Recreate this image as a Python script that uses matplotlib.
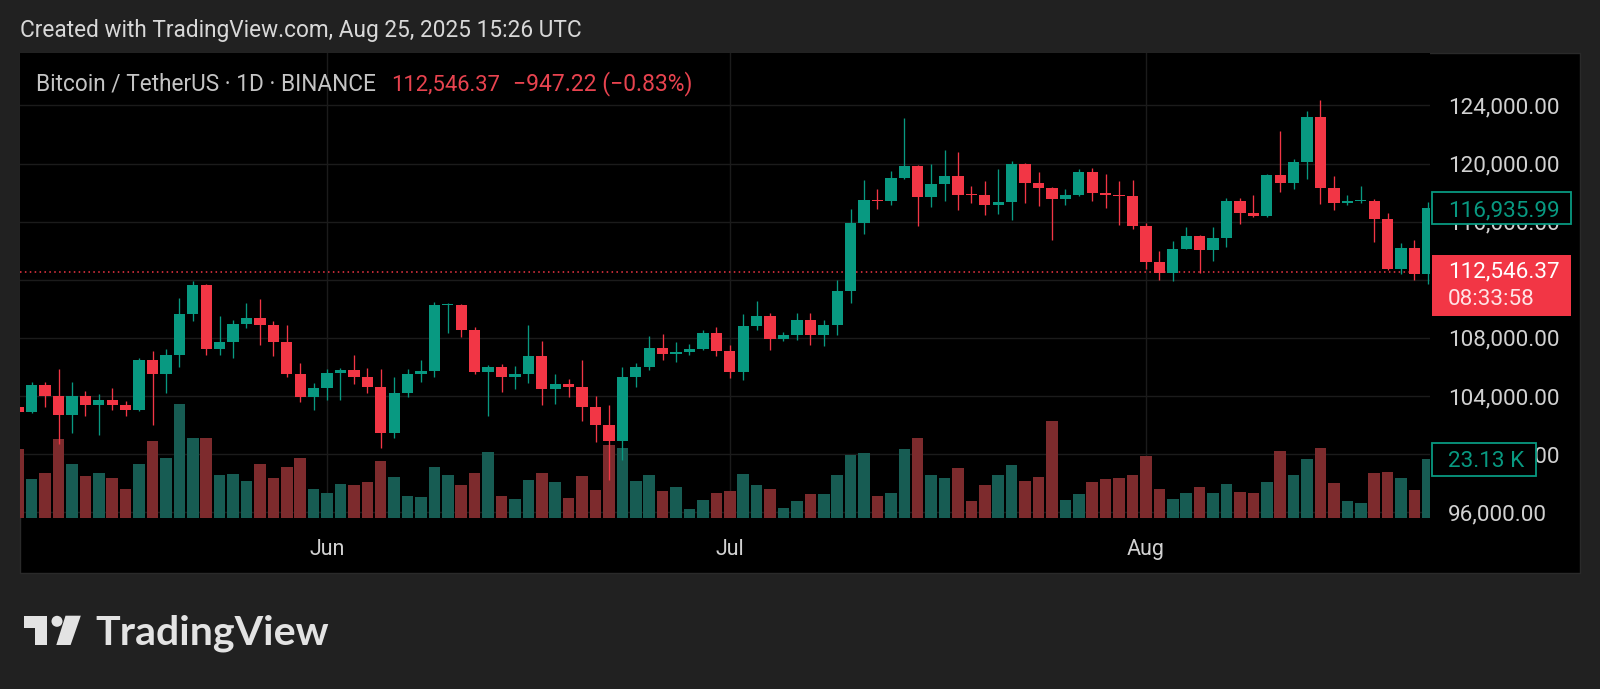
import numpy as np
import pandas as pd
import matplotlib
matplotlib.use("Agg")
import matplotlib.pyplot as plt
import matplotlib.dates as mdates
from matplotlib.patches import Rectangle, Circle, Polygon
from matplotlib.ticker import FuncFormatter

plt.rcParams["font.family"] = ["Roboto", "DejaVu Sans"]

# BTCUSDT daily candles (Binance), prices in thousand USDT, volume in thousand BTC
START = "2025-05-09"
OPEN = [103.23, 102.88, 104.79, 104.03, 102.72, 104.03, 103.41, 103.69, 103.41, 103.07,
        106.45, 105.53, 106.79, 109.62, 111.62, 107.25, 107.71, 108.93, 109.39, 108.86,
        107.71, 105.53, 103.92, 104.54, 105.60, 105.80, 105.30, 104.65, 101.43, 104.22,
        105.48, 105.69, 110.24, 110.29, 108.56, 105.64, 106.03, 105.34, 105.53, 106.77,
        104.47, 104.82, 104.61, 103.23, 102.03, 100.88, 105.34, 106.03, 107.30, 106.91,
        107.00, 107.25, 108.33, 107.07, 105.64, 108.79, 109.53, 107.94, 108.17, 109.20,
        108.17, 108.86, 111.20, 115.94, 117.48, 117.41, 119.04, 119.83, 117.71, 118.59,
        119.14, 117.94, 117.83, 117.18, 117.34, 119.94, 118.68, 118.29, 117.57, 117.87,
        119.39, 117.99, 117.87, 117.78, 115.69, 113.23, 112.49, 114.15, 115.02, 114.03,
        114.91, 117.44, 116.61, 116.38, 119.20, 118.63, 120.08, 123.23, 118.29, 117.30,
        117.44, 117.40, 116.17, 112.77, 114.22, 112.42]
HIGH = [104.30, 104.95, 104.95, 105.83, 104.95, 104.31, 104.15, 104.54, 103.64, 106.61,
        107.07, 107.25, 110.77, 111.92, 111.74, 109.48, 109.25, 110.40, 110.66, 109.16,
        108.86, 106.29, 104.88, 105.87, 105.94, 106.79, 105.94, 105.87, 105.34, 105.87,
        106.45, 110.47, 110.40, 110.36, 108.75, 106.10, 106.22, 106.06, 108.91, 107.76,
        105.53, 105.18, 106.49, 103.97, 103.39, 106.03, 106.26, 108.13, 108.24, 107.71,
        107.55, 108.52, 108.75, 107.48, 109.67, 110.52, 109.71, 108.38, 109.71, 109.71,
        109.20, 111.96, 116.86, 118.86, 118.22, 119.48, 123.16, 119.90, 120.00, 120.97,
        120.77, 118.45, 118.81, 119.62, 120.20, 120.06, 119.39, 118.36, 118.26, 119.66,
        119.73, 119.25, 118.79, 118.90, 115.92, 113.99, 114.65, 115.64, 115.07, 115.64,
        117.60, 117.60, 117.87, 119.30, 122.27, 120.29, 123.62, 124.38, 119.16, 117.83,
        118.44, 117.55, 116.61, 114.54, 114.77, 117.37]
LOW = [102.30, 102.82, 103.27, 100.70, 101.43, 102.61, 101.34, 103.07, 102.59, 103.00,
       102.01, 104.20, 106.03, 109.16, 106.79, 106.79, 106.61, 108.68, 107.53, 106.72,
       105.30, 103.57, 103.05, 103.73, 103.69, 104.84, 104.20, 100.40, 101.09, 103.92,
       104.95, 105.30, 108.33, 108.06, 105.50, 102.61, 104.26, 104.45, 104.91, 103.37,
       103.46, 103.92, 102.31, 100.82, 98.22, 99.60, 104.61, 105.80, 106.49, 106.33,
       106.79, 107.14, 106.72, 105.25, 105.11, 108.52, 107.18, 107.76, 107.83, 107.48,
       107.41, 108.20, 110.42, 115.18, 116.86, 117.18, 118.91, 115.69, 116.98, 117.44,
       116.79, 117.30, 116.45, 116.52, 116.15, 117.30, 117.07, 114.72, 117.12, 117.80,
       117.44, 116.95, 115.80, 115.53, 112.77, 112.01, 111.92, 114.10, 112.47, 113.30,
       114.26, 115.87, 116.33, 116.30, 118.06, 118.22, 118.91, 117.21, 116.79, 117.14,
       117.30, 114.61, 112.70, 112.38, 112.01, 111.69]
CLOSE = [102.88, 104.79, 104.03, 102.72, 104.03, 103.41, 103.69, 103.41, 103.07, 106.45,
         105.53, 106.79, 109.62, 111.62, 107.25, 107.71, 108.93, 109.39, 108.86, 107.71,
         105.53, 103.92, 104.54, 105.60, 105.80, 105.30, 104.65, 101.43, 104.22, 105.48,
         105.69, 110.24, 110.29, 108.56, 105.64, 106.03, 105.34, 105.53, 106.77, 104.47,
         104.82, 104.61, 103.23, 102.03, 100.88, 105.34, 106.03, 107.30, 106.91, 107.00,
         107.25, 108.33, 107.07, 105.64, 108.79, 109.53, 107.94, 108.17, 109.20, 108.17,
         108.86, 111.20, 115.94, 117.48, 117.41, 119.04, 119.83, 117.71, 118.59, 119.14,
         117.83, 117.83, 117.18, 117.34, 119.94, 118.68, 118.29, 117.57, 117.87, 119.39,
         117.99, 117.87, 117.78, 115.69, 113.23, 112.49, 114.15, 115.02, 114.03, 114.91,
         117.44, 116.61, 116.38, 119.20, 118.63, 120.08, 123.23, 118.29, 117.30, 117.44,
         117.50, 116.17, 112.77, 114.22, 112.42, 116.94]
VOLUME = [27.3, 15.3, 17.9, 31.0, 21.2, 16.5, 17.9, 15.6, 11.4, 21.4,
          30.2, 23.6, 45.0, 31.6, 31.6, 16.9, 17.5, 14.5, 21.2, 15.7,
          19.9, 23.6, 11.4, 9.9, 13.3, 13.2, 14.0, 22.3, 16.0, 8.6,
          8.1, 19.9, 17.1, 13.2, 17.9, 26.0, 8.8, 7.3, 14.9, 17.9,
          14.0, 7.7, 16.5, 11.2, 28.6, 27.6, 14.5, 16.9, 10.7, 12.3,
          3.5, 6.9, 9.9, 10.7, 17.5, 13.2, 11.6, 4.0, 6.7, 9.5,
          9.3, 17.1, 24.7, 25.7, 8.6, 9.7, 27.0, 31.6, 16.9, 15.6,
          19.7, 6.8, 12.9, 16.9, 20.8, 14.5, 16.0, 38.1, 7.1, 9.3,
          14.0, 15.2, 15.6, 17.1, 24.4, 11.6, 7.4, 9.9, 12.2, 9.9,
          13.3, 10.1, 9.7, 14.2, 26.4, 16.9, 23.1, 27.7, 13.8, 6.7,
          6.0, 17.9, 18.2, 15.8, 11.0, 23.13]

SYMBOL = "Bitcoin / TetherUS · 1D · BINANCE"
LAST_PRICE = 112546.37
CHANGE = -947.22
CHANGE_PCT = -0.83
BAR_CLOSE = 116935.99
COUNTDOWN = "08:33:58"
CREATED = "Created with TradingView.com, Aug 25, 2025 15:26 UTC"
PRICE_TICKS = np.arange(96000, 128000, 4000)

UP, DOWN = "#089981", "#f23645"
UP_VOL, DOWN_VOL = "#175c53", "#7d2b2d"
GRID = "#1b1b1b"
TXT = "#d1d1d1"

W, H = 1600, 689
PANE = (20, 52.7, 1430, 518)          # left, top, right, bottom in px
PANE_H = PANE[3] - PANE[1]
YLIM = (95600, 127635)
VOL_TOP = 183.35                       # volume value at the top of the pane

o = np.array(OPEN) * 1000
h = np.array(HIGH) * 1000
l = np.array(LOW) * 1000
c = np.array(CLOSE) * 1000
v = np.array(VOLUME)
d = mdates.date2num(pd.date_range(START, periods=len(o)))
up = c >= o

fig = plt.figure(figsize=(16, 6.89), dpi=100, facecolor="#212121")

bg = fig.add_axes([0, 0, 1, 1], zorder=-1)
bg.set_xlim(0, W)
bg.set_ylim(H, 0)
bg.axis("off")
bg.add_patch(Rectangle((20, 52.7), 1560, 520, fc="black", ec="#2a2a2a", lw=1))

ax = fig.add_axes([PANE[0] / W, 1 - PANE[3] / H, (PANE[2] - PANE[0]) / W, PANE_H / H])
ax.set_facecolor("black")
for s in ax.spines.values():
    s.set_visible(False)

# volume overlay (bottom of the pane)
ax.bar(d, v / VOL_TOP, width=0.86, bottom=0, color=np.where(up, UP_VOL, DOWN_VOL),
       linewidth=0, transform=ax.get_xaxis_transform(), zorder=2)

# candles
cols = np.where(up, UP, DOWN)
ax.vlines(d, l, h, colors=cols, linewidth=0.95, zorder=3)
ax.bar(d, np.maximum(np.abs(c - o), 80), bottom=np.minimum(o, c), width=0.84,
       color=cols, linewidth=0, zorder=4)

ax.axhline(LAST_PRICE, color=DOWN, lw=1.1, ls=(0, (1, 2.2)), zorder=2.5)

ax.set_xlim(d[0] + 0.13, d[0] + 105.16)
ax.set_ylim(*YLIM)
ax.set_yticks(PRICE_TICKS)
ax.yaxis.tick_right()
ax.yaxis.set_major_formatter(FuncFormatter(lambda val, pos: f"{val:,.2f}"))
ax.xaxis.set_major_locator(mdates.MonthLocator())
ax.xaxis.set_major_formatter(mdates.DateFormatter("%b"))
ax.tick_params(axis="y", length=0, pad=13, labelsize=16.2, labelcolor=TXT)
ax.tick_params(axis="x", length=0, pad=15, labelsize=15.5, labelcolor=TXT)
ax.grid(True, color=GRID, lw=1)
ax.set_axisbelow(True)

# price-scale labels
pax = fig.add_axes([PANE[2] / W, 1 - PANE[3] / H, 150 / W, PANE_H / H], sharey=ax)
pax.set_xlim(PANE[2], 1580)
pax.axis("off")
ppx = (YLIM[1] - YLIM[0]) / PANE_H     # price per pixel

pax.add_patch(Rectangle((1432, BAR_CLOSE - 15.8 * ppx), 139, 31.6 * ppx,
                        fc="black", ec=UP, lw=1.3, zorder=3))
pax.text(1448, BAR_CLOSE, f"{BAR_CLOSE:,.2f}", color=UP, fontsize=16.2,
         va="center_baseline", ha="left", zorder=4)

pax.add_patch(Rectangle((1432, LAST_PRICE - 44.4 * ppx), 139, 61 * ppx,
                        fc=DOWN, ec="none", zorder=3))
pax.text(1448, LAST_PRICE + 2 * ppx, f"{LAST_PRICE:,.2f}", color="white", fontsize=16.2,
         va="center_baseline", ha="left", zorder=4)
pax.text(1448, LAST_PRICE - 25 * ppx, COUNTDOWN, color="#ffe3e5", fontsize=16.2,
         va="center_baseline", ha="left", zorder=4)

vtr = pax.get_xaxis_transform()
pax.add_patch(Rectangle((1432, v[-1] / VOL_TOP - 16.3 / PANE_H), 104, 32.6 / PANE_H,
                        transform=vtr, fc="black", ec=UP, lw=1.3, zorder=3))
pax.text(1448, v[-1] / VOL_TOP, f"{v[-1]:.2f} K", transform=vtr, color=UP, fontsize=16.2,
         va="center_baseline", ha="left", zorder=4)

# texts and logo in pixel space
top = fig.add_axes([0, 0, 1, 1], zorder=5)
top.set_xlim(0, W)
top.set_ylim(H, 0)
top.axis("off")

r = fig.canvas.get_renderer()


def fit(t, width):
    bb = t.get_window_extent(renderer=r)
    t.set_fontsize(t.get_fontsize() * width / bb.width)


t = top.text(20, 37.5, CREATED, color="#d8d8d8", fontsize=15, va="baseline")
fit(t, 563)
t = top.text(36, 90.7, SYMBOL, color="#c4c4c4", fontsize=15, va="baseline")
fit(t, 341)
t = top.text(391, 90.7, f"{LAST_PRICE:,.2f}", color="#e8434f", fontsize=15, va="baseline")
fit(t, 109)
t = top.text(513, 90.7, f"\u2212{abs(CHANGE):,.2f} (\u2212{abs(CHANGE_PCT):.2f}%)",
             color="#e8434f", fontsize=15, va="baseline")
fit(t, 179)

LOGO = "#e3e3e3"
top.add_patch(Polygon([(24, 615.7), (46.7, 615.7), (46.7, 645), (35, 645), (35, 628.3), (24, 628.3)],
                      closed=True, fc=LOGO, ec="none"))
top.add_patch(Circle((57, 621.3), 5.5, fc=LOGO, ec="none"))
top.add_patch(Polygon([(65.5, 615.7), (80.8, 615.7), (70.6, 645), (56.3, 645)],
                      closed=True, fc=LOGO, ec="none"))
t = top.text(95, 645, "TradingView", color=LOGO, fontsize=30, fontweight="bold",
             family=["Lato", "DejaVu Sans"], va="baseline")
fit(t, 233)

fig.savefig("out.png", dpi=100, facecolor=fig.get_facecolor())
